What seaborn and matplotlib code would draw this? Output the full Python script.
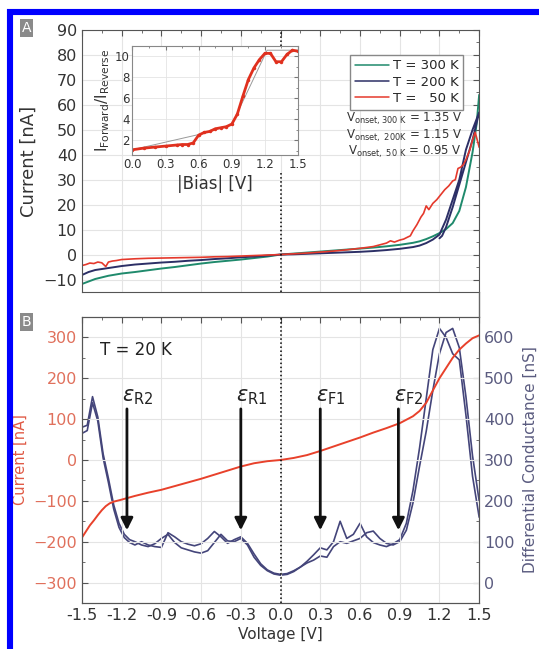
import matplotlib
matplotlib.use("Agg")
import matplotlib.pyplot as plt
from matplotlib.lines import Line2D
from matplotlib.ticker import MultipleLocator
import seaborn as sns

# ---------------- panel A : I-V curves at three temperatures ----------------
v_300 = [-1.5, -1.45, -1.4, -1.3, -1.2, -1.1, -1.0, -0.9, -0.8, -0.7, -0.6, -0.5, -0.4, -0.3, -0.2, -0.1,
         0.0, 0.1, 0.2, 0.3, 0.4, 0.5, 0.6, 0.7, 0.8, 0.9, 1.0, 1.05, 1.1, 1.15, 1.2, 1.25, 1.3, 1.35,
         1.4, 1.45, 1.48, 1.5]
i_300 = [-11.8, -10.8, -9.8, -8.5, -7.6, -7.0, -6.3, -5.6, -5.0, -4.3, -3.6, -3.0, -2.5, -2.0, -1.4, -0.8,
         0.0, 0.4, 0.8, 1.2, 1.6, 2.0, 2.4, 2.8, 3.3, 3.9, 4.7, 5.3, 6.2, 7.3, 8.6, 10.2, 12.6, 17.5,
         27.0, 41.0, 52.0, 64.0]

v_200 = [-1.5, -1.45, -1.4, -1.3, -1.2, -1.1, -1.0, -0.9, -0.8, -0.7, -0.6, -0.5, -0.4, -0.3, -0.2, -0.1,
         0.0, 0.1, 0.2, 0.3, 0.4, 0.5, 0.6, 0.7, 0.8, 0.9, 1.0, 1.05, 1.1, 1.15, 1.2, 1.25, 1.3, 1.35,
         1.4, 1.45, 1.5, 1.45, 1.4, 1.35, 1.3, 1.25, 1.22, 1.2]
i_200 = [-8.2, -7.0, -6.2, -5.4, -4.6, -4.0, -3.6, -3.2, -2.9, -2.5, -2.2, -1.8, -1.5, -1.1, -0.8, -0.4,
         0.0, 0.1, 0.3, 0.5, 0.7, 0.9, 1.1, 1.4, 1.8, 2.3, 3.0, 3.6, 4.6, 6.0, 8.0, 14.0, 22.0, 30.0,
         42.0, 50.0, 57.0, 46.0, 37.0, 28.0, 19.0, 11.0, 7.5, 6.5]

v_50 = [-1.5, -1.47, -1.44, -1.41, -1.38, -1.35, -1.32, -1.3, -1.27, -1.24, -1.2, -1.1, -1.0, -0.9, -0.8,
        -0.7, -0.6, -0.5, -0.4, -0.3, -0.2, -0.1, 0.0, 0.1, 0.2, 0.3, 0.4, 0.5, 0.6, 0.7, 0.75, 0.8, 0.83,
        0.86, 0.9, 0.93, 0.96, 0.98, 1.0, 1.03, 1.06, 1.08, 1.1, 1.12, 1.15, 1.18, 1.21, 1.24, 1.27, 1.3,
        1.32, 1.34, 1.36, 1.38, 1.4, 1.43, 1.45, 1.47, 1.49, 1.5]
i_50 = [-4.4, -4.0, -3.4, -3.6, -3.0, -3.3, -4.8, -3.0, -2.6, -2.4, -2.0, -1.7, -1.5, -1.4, -1.3,
        -1.2, -1.1, -0.9, -0.8, -0.6, -0.4, -0.2, 0.0, 0.3, 0.6, 1.0, 1.4, 1.9, 2.5, 3.2, 3.9, 4.6, 5.5,
        5.0, 5.8, 6.2, 7.0, 7.5, 9.5, 12.0, 15.0, 16.5, 19.5, 18.0, 20.5, 22.0, 24.0, 26.0, 27.5, 29.5,
        30.0, 34.5, 35.0, 36.0, 38.0, 42.0, 46.0, 49.0, 45.0, 43.0]

temp_labels = ["T = 300 K", "T = 200 K", "T =   50 K"]
onset_labels = [r"V$_{\mathregular{onset,300\ K}}$ = 1.35 V",
                r"V$_{\mathregular{onset,\ 200K}}$ = 1.15 V",
                r"V$_{\mathregular{onset,\ 50\ K}}$ = 0.95 V"]

# inset: forward / reverse current ratio
bias_abs = [0.0, 0.1, 0.2, 0.3, 0.4, 0.45, 0.5, 0.55, 0.6, 0.65, 0.7, 0.75, 0.8, 0.85, 0.9, 0.95,
            1.0, 1.05, 1.1, 1.15, 1.2, 1.25, 1.3, 1.35, 1.4, 1.45, 1.5]
ratio = [1.1, 1.25, 1.35, 1.45, 1.55, 1.6, 1.6, 1.75, 2.5, 2.75, 2.85, 3.1, 3.2, 3.3, 3.55, 4.5,
         6.2, 7.8, 8.9, 9.7, 10.3, 10.3, 9.5, 9.5, 10.2, 10.6, 10.5]
fit_bias = [0.0, 0.62, 0.9, 1.22, 1.5]
fit_ratio = [1.1, 2.6, 3.5, 10.6, 10.6]

# ---------------- panel B : T = 20 K ----------------
v_iv = [-1.5, -1.47, -1.44, -1.41, -1.38, -1.35, -1.32, -1.29, -1.26, -1.2, -1.1, -1.0, -0.9, -0.8, -0.7,
        -0.6, -0.5, -0.4, -0.3, -0.2, -0.1, 0.0, 0.1, 0.2, 0.3, 0.4, 0.5, 0.6, 0.7, 0.8, 0.9, 1.0, 1.05,
        1.1, 1.15, 1.2, 1.25, 1.3, 1.35, 1.4, 1.45, 1.5]
i_20k = [-190, -175, -160, -148, -135, -123, -113, -106, -102, -97, -88, -80, -73, -64, -55,
         -46, -36, -26, -16, -8, -3, 0, 5, 12, 22, 33, 44, 55, 67, 78, 90, 107, 120,
         140, 170, 200, 225, 250, 270, 285, 298, 305]

v_dg = [-1.5, -1.46, -1.42, -1.38, -1.34, -1.3, -1.26, -1.22, -1.18, -1.14, -1.1, -1.05, -1.0, -0.95,
        -0.9, -0.85, -0.8, -0.75, -0.7, -0.65, -0.6, -0.55, -0.5, -0.45, -0.4, -0.35, -0.3, -0.25, -0.2,
        -0.15, -0.1, -0.05, 0.0, 0.05, 0.1, 0.15, 0.2, 0.25, 0.3, 0.35, 0.4, 0.45, 0.5, 0.55, 0.6, 0.65,
        0.7, 0.75, 0.8, 0.85, 0.9, 0.95, 1.0, 1.05, 1.1, 1.15, 1.2, 1.25, 1.3, 1.35, 1.4, 1.45, 1.5]
dg_fwd = [380, 385, 455, 405, 315, 255, 190, 145, 118, 105, 100, 92, 88, 95,
          108, 118, 98, 85, 80, 75, 72, 78, 98, 118, 102, 100, 108, 92, 62,
          42, 29, 21, 18, 20, 27, 38, 52, 68, 85, 80, 100, 150, 108, 118, 145, 112,
          98, 92, 88, 95, 105, 145, 225, 330, 450, 570, 622, 600, 560, 545, 410, 260, 160]
dg_bwd = [365, 372, 440, 395, 305, 245, 180, 135, 110, 98, 92, 100, 92, 88,
          86, 122, 112, 100, 94, 90, 95, 108, 125, 112, 96, 105, 112, 96, 70,
          46, 31, 23, 20, 22, 29, 38, 48, 55, 65, 62, 88, 100, 96, 102, 108, 122,
          126, 108, 96, 92, 100, 128, 195, 285, 370, 470, 560, 612, 622, 575, 455, 310, 200]

eps_labels = [r"$\varepsilon_{\mathrm{R2}}$", r"$\varepsilon_{\mathrm{R1}}$",
              r"$\varepsilon_{\mathrm{F1}}$", r"$\varepsilon_{\mathrm{F2}}$"]
eps_volt = [-1.16, -0.3, 0.3, 0.89]

volt_ticks = [-1.5, -1.2, -0.9, -0.6, -0.3, 0.0, 0.3, 0.6, 0.9, 1.2, 1.5]

# ---------------- style ----------------
sns.set_style("white")
plt.rcParams["font.family"] = ["DejaVu Sans"]
plt.rcParams["axes.edgecolor"] = "#555555"

c300, c200, c50 = "#1f8a6c", "#2c2f66", "#e5392c"
c_red_b, c_navy_b = "#e8412b", "#44457a"
grid_c = "#e4e4e4"

fig = plt.figure(figsize=(5.39, 6.49), dpi=100)
axA = fig.add_axes([0.152, 0.5501, 0.737, 0.4037])
axB = fig.add_axes([0.152, 0.0709, 0.737, 0.4407])
axB2 = axB.twinx()
axIn = fig.add_axes([0.2458, 0.7612, 0.3071, 0.1679])

# ----- panel A -----
sns.lineplot(x=v_300, y=i_300, ax=axA, color=c300, lw=1.4, sort=False, estimator=None, label=temp_labels[0])
sns.lineplot(x=v_200, y=i_200, ax=axA, color=c200, lw=1.4, sort=False, estimator=None, label=temp_labels[1])
sns.lineplot(x=v_50, y=i_50, ax=axA, color=c50, lw=1.2, sort=False, estimator=None, label=temp_labels[2])
axA.axvline(0, ymin=0, ymax=0.455, color="black", ls=":", lw=1.1)
axA.axvline(0, ymin=0.94, ymax=1, color="black", ls=":", lw=1.1)
axA.set_xlim(-1.5, 1.5)
axA.set_ylim(-15, 90)
axA.set_xticks(volt_ticks)
axA.xaxis.set_minor_locator(MultipleLocator(0.15))
axA.yaxis.set_major_locator(MultipleLocator(10))
axA.yaxis.set_minor_locator(MultipleLocator(5))
axA.grid(True, which="major", color=grid_c, lw=0.8)
axA.tick_params(which="both", direction="in", top=True, right=True, labelbottom=False,
                labelsize=11.5, colors="#555555", labelcolor="#333333")
axA.tick_params(which="major", length=4)
axA.tick_params(which="minor", length=2)
axA.set_xlabel("")
axA.set_ylabel("Current [nA]", fontsize=13, color="#333333", labelpad=4)
leg = axA.legend(loc="upper right", bbox_to_anchor=(0.96, 0.905), borderaxespad=0, fontsize=9.5,
                 fancybox=False, framealpha=1, edgecolor="#888888", handlelength=2.6,
                 handletextpad=0.3, labelspacing=0.25, borderpad=0.35)
for line in leg.get_lines():
    line.set_linewidth(1.1)
for k, txt in enumerate(onset_labels):
    axA.text(0.957, 0.66 - 0.063 * k, txt, transform=axA.transAxes, ha="right", va="center",
             fontsize=8.5, color="#333333")

# ----- inset -----
axIn.set_facecolor("white")
sns.lineplot(x=fit_bias, y=fit_ratio, ax=axIn, color="#999999", lw=0.7, estimator=None)
sns.lineplot(x=bias_abs, y=ratio, ax=axIn, color="#e0301e", lw=2.0, marker="o", markersize=2.5,
             markeredgewidth=0, estimator=None)
axIn.set_xlim(0, 1.5)
axIn.set_ylim(0.6, 11)
axIn.set_xticks([0.0, 0.3, 0.6, 0.9, 1.2, 1.5])
axIn.set_yticks([2, 4, 6, 8, 10])
axIn.xaxis.set_minor_locator(MultipleLocator(0.15))
axIn.yaxis.set_minor_locator(MultipleLocator(1))
axIn.grid(True, which="major", color=grid_c, lw=0.6)
axIn.tick_params(which="both", direction="in", top=True, right=True, labelsize=8.5,
                 colors="#777777", labelcolor="#333333", pad=2)
axIn.tick_params(which="major", length=3)
axIn.tick_params(which="minor", length=1.5)
for s in axIn.spines.values():
    s.set_color("#888888")
axIn.set_xlabel("|Bias| [V]", fontsize=12, color="#333333", labelpad=3)
axIn.set_ylabel(r"I$_{\mathregular{Forward}}$/I$_{\mathregular{Reverse}}$", fontsize=11,
                color="#333333", labelpad=2)

# ----- panel B -----
sns.lineplot(x=v_dg, y=dg_fwd, ax=axB2, color=c_navy_b, lw=1.2, estimator=None)
sns.lineplot(x=v_dg, y=dg_bwd, ax=axB2, color=c_navy_b, lw=1.2, estimator=None)
sns.lineplot(x=v_iv, y=i_20k, ax=axB, color=c_red_b, lw=1.4, estimator=None)
axB.set_zorder(axB2.get_zorder() + 1)
axB.patch.set_visible(False)
axB.axvline(0, color="black", ls=":", lw=1.1)

axB.set_xlim(-1.5, 1.5)
axB.set_ylim(-350, 350)
axB2.set_ylim(-50, 650)
axB.set_xticks(volt_ticks)
axB.set_xticklabels([f"{t:.1f}" for t in volt_ticks])
axB.xaxis.set_minor_locator(MultipleLocator(0.15))
axB.yaxis.set_major_locator(MultipleLocator(100))
axB.yaxis.set_minor_locator(MultipleLocator(50))
axB2.yaxis.set_major_locator(MultipleLocator(100))
axB2.yaxis.set_minor_locator(MultipleLocator(50))
axB.grid(True, which="major", color=grid_c, lw=0.8)
axB.tick_params(which="both", direction="in", top=True, labelsize=11.5, colors="#555555")
axB.tick_params(axis="x", labelcolor="#333333")
axB.tick_params(axis="y", labelcolor="#e0705c")
axB2.tick_params(which="both", direction="in", labelsize=11.5, colors="#555555", labelcolor="#5b5c80")
for a in (axB, axB2):
    a.tick_params(which="major", length=4)
    a.tick_params(which="minor", length=2)
axB.set_xlabel("Voltage [V]", fontsize=11, color="#333333", labelpad=3)
axB.set_ylabel("Current [nA]", fontsize=10.5, color="#e05a45", labelpad=4)
axB2.set_ylabel("Differential Conductance [nS]", fontsize=11, color="#5b5c80", labelpad=6)

axB.text(-1.36, 268, "T = 20 K", fontsize=12, color="#222222", va="center")
for lab, xv in zip(eps_labels, eps_volt):
    axB.annotate("", xy=(xv, -172), xytext=(xv, 125),
                 arrowprops=dict(arrowstyle="-|>", lw=2.0, color="#111111", mutation_scale=18,
                                 shrinkA=0, shrinkB=0))
    axB.text(xv - 0.035, 130, lab, fontsize=15, ha="left", va="bottom", color="#222222")

# ----- decorations: panel tags, connecting spine, blue frame -----
for tag, ypx in (("A", 28), ("B", 322)):
    fig.text(26.5 / 539, 1 - ypx / 649, tag, ha="center", va="center", color="white", fontsize=10,
             bbox=dict(boxstyle="square,pad=0.15", fc="#8a8a8a", ec="none"))
fig.add_artist(Line2D([479 / 539, 479 / 539], [0.5501, 0.5116], color="#666666", lw=1))
fig.add_artist(Line2D([1.0, 10 / 539, 10 / 539], [1 - 12 / 649, 1 - 12 / 649, 0.0],
                      color="#0000ff", lw=4.4, solid_joinstyle="miter"))

fig.savefig("out.png", dpi=100)
